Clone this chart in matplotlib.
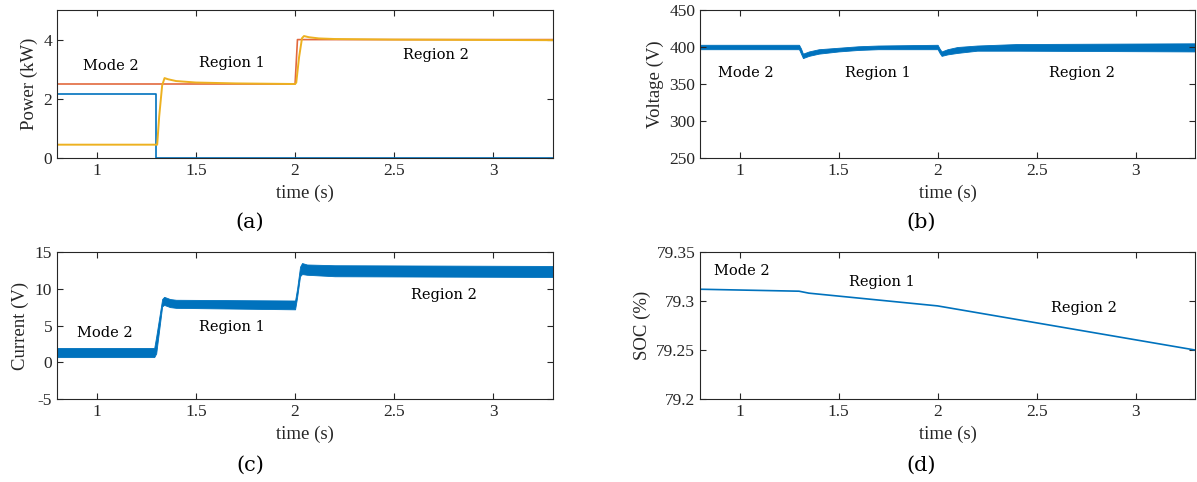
import matplotlib
matplotlib.use('Agg')
import matplotlib.pyplot as plt

# ---- data ----
# (a) power
t_batt = [0.8, 1.3, 1.3, 3.3]
p_batt = [2.15, 2.15, 0.0, 0.0]
t_ref = [0.8, 2.0, 2.012, 3.3]
p_ref = [2.5, 2.5, 4.0, 4.0]
t_out = [0.8, 1.305, 1.315, 1.33, 1.342, 1.36, 1.4, 1.5, 1.7, 2.0, 2.006, 2.02, 2.035, 2.045, 2.07, 2.12, 2.2, 2.5, 3.3]
p_out = [0.45, 0.45, 1.4, 2.45, 2.7, 2.66, 2.6, 2.55, 2.52, 2.5, 2.55, 3.4, 4.05, 4.12, 4.08, 4.04, 4.02, 4.0, 3.98]

# (b) dc-link voltage, ripple envelope
t_v = [0.8, 1.3, 1.31, 1.32, 1.35, 1.4, 1.5, 1.6, 1.7, 2.0, 2.01, 2.02, 2.05, 2.1, 2.2, 2.4, 3.3]
v_lo = [397, 397, 391, 385, 388, 391, 394, 396, 397, 397, 392, 388, 390, 392, 395, 395, 394]
v_hi = [403, 403, 398, 391, 394, 397, 399, 401, 402, 403, 398, 394, 397, 400, 402, 404, 405]

# (c) current, ripple envelope
t_i = [0.8, 1.29, 1.30, 1.33, 1.34, 1.37, 1.4, 2.0, 2.01, 2.025, 2.035, 2.06, 2.2, 3.3]
i_lo = [0.7, 0.7, 1.2, 7.6, 7.8, 7.5, 7.4, 7.2, 8.8, 11.7, 12.0, 11.9, 11.7, 11.6]
i_hi = [1.95, 1.95, 3.5, 8.6, 8.9, 8.6, 8.5, 8.4, 10.0, 13.0, 13.5, 13.3, 13.2, 13.1]

# (d) state of charge
t_soc = [0.8, 1.3, 1.35, 2.0, 3.3]
soc = [79.312, 79.310, 79.308, 79.295, 79.250]

xticks = [1, 1.5, 2, 2.5, 3]
xticklabels = ['1', '1.5', '2', '2.5', '3']

BLUE = '#0072BD'
ORANGE = '#E2693E'
YELLOW = '#EDB120'
TXT = '#262626'

tick_font = 'Liberation Serif'
note_font = 'DejaVu Serif'

fig = plt.figure(figsize=(11.97, 4.82), dpi=100)
W, H = 1197.0, 482.0


def make_axes(x0, x1, y0, y1):
    ax = fig.add_axes([x0 / W, 1 - y1 / H, (x1 - x0) / W, (y1 - y0) / H])
    ax.set_xlim(0.8, 3.3)
    ax.set_xticks(xticks)
    ax.set_xticklabels(xticklabels)
    ax.tick_params(direction='in', top=True, right=True, length=4, width=0.8,
                   colors=TXT, labelsize=12.5)
    for lab in ax.get_xticklabels() + ax.get_yticklabels():
        lab.set_fontfamily(tick_font)
    for s in ax.spines.values():
        s.set_color(TXT)
        s.set_linewidth(0.8)
    ax.set_xlabel('time (s)', fontsize=13.5, family=tick_font, color=TXT, labelpad=4)
    return ax


def note(ax, x, y, s):
    ax.text(x, y, s, ha='center', va='center', fontsize=10.5, family=note_font, color='black')


# (a)
ax = make_axes(57, 553, 10, 158)
ax.plot(t_batt, p_batt, color=BLUE, lw=1.2)
ax.plot(t_ref, p_ref, color=ORANGE, lw=1.2)
ax.plot(t_out, p_out, color=YELLOW, lw=1.4)
ax.set_ylim(0, 5)
ax.set_yticks([0, 2, 4])
ax.set_yticklabels(['0', '2', '4'], family=tick_font)
ax.set_ylabel('Power (kW)', fontsize=13.5, family=tick_font, color=TXT, labelpad=4)
note(ax, 1.07, 3.1, 'Mode 2')
note(ax, 1.68, 3.2, 'Region 1')
note(ax, 2.71, 3.48, 'Region 2')

# (b)
ax = make_axes(700, 1195, 10, 158)
ax.fill_between(t_v, v_lo, v_hi, color=BLUE, lw=0.6, edgecolor=BLUE)
ax.set_ylim(250, 450)
ax.set_yticks([250, 300, 350, 400, 450])
ax.set_yticklabels(['250', '300', '350', '400', '450'], family=tick_font)
ax.set_ylabel('Voltage (V)', fontsize=13.5, family=tick_font, color=TXT, labelpad=4)
note(ax, 1.03, 365, 'Mode 2')
note(ax, 1.70, 365, 'Region 1')
note(ax, 2.73, 365, 'Region 2')

# (c)
ax = make_axes(57, 553, 252, 399)
ax.fill_between(t_i, i_lo, i_hi, color=BLUE, lw=0.6, edgecolor=BLUE)
ax.set_ylim(-5, 15)
ax.set_yticks([-5, 0, 5, 10, 15])
ax.set_yticklabels(['-5', '0', '5', '10', '15'], family=tick_font)
ax.set_ylabel('Current (V)', fontsize=13.5, family=tick_font, color=TXT, labelpad=4)
note(ax, 1.04, 4.0, 'Mode 2')
note(ax, 1.68, 4.8, 'Region 1')
note(ax, 2.75, 9.15, 'Region 2')

# (d)
ax = make_axes(700, 1195, 252, 399)
ax.plot(t_soc, soc, color=BLUE, lw=1.2)
ax.set_ylim(79.2, 79.35)
ax.set_yticks([79.2, 79.25, 79.3, 79.35])
ax.set_yticklabels(['79.2', '79.25', '79.3', '79.35'], family=tick_font)
ax.set_ylabel('SOC (%)', fontsize=13.5, family=tick_font, color=TXT, labelpad=4)
note(ax, 1.01, 79.331, 'Mode 2')
note(ax, 1.72, 79.319, 'Region 1')
note(ax, 2.74, 79.293, 'Region 2')

# captions
for x, y, s in [(250, 222, '(a)'), (921, 222, '(b)'), (250, 465, '(c)'), (921, 465, '(d)')]:
    fig.text(x / W, 1 - y / H, s, ha='center', va='center', fontsize=15, family=note_font, color='black')

fig.savefig('out.png', dpi=100)
